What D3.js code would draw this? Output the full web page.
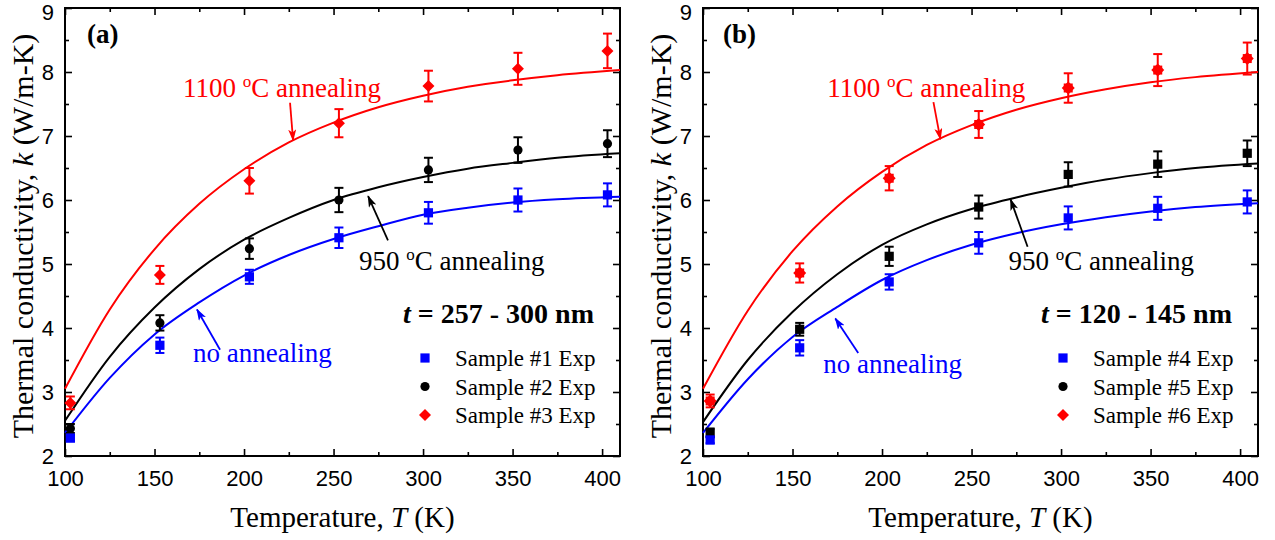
<!DOCTYPE html>
<html>
<head>
<meta charset="utf-8">
<script src="https://cdn.jsdelivr.net/npm/d3@7"></script>
<style>
  body { margin: 0; background: #fff; }
  svg { display: block; }
</style>
</head>
<body>
<div id="chart"></div>
<script>
// measured temperatures (K)
const tempA = [103, 153, 203, 253, 303, 353, 403];
const tempB = [104, 154, 204, 254, 304, 354, 404];

// panel (a) experimental points, W/m-K
const s1 = [2.28, 3.73, 4.80, 5.41, 5.80, 6.00, 6.08];
const s1Err = [0.05, 0.12, 0.11, 0.16, 0.17, 0.18, 0.18];
const s2 = [2.43, 4.08, 5.24, 6.00, 6.47, 6.78, 6.88];
const s2Err = [0.07, 0.12, 0.16, 0.19, 0.19, 0.20, 0.21];
const s3 = [2.83, 4.83, 6.30, 7.20, 7.78, 8.05, 8.33];
const s3Err = [0.10, 0.14, 0.20, 0.22, 0.24, 0.25, 0.27];

// panel (b) experimental points
const s4 = [2.25, 3.69, 4.72, 5.33, 5.72, 5.87, 5.97];
const s4Err = [0.05, 0.12, 0.12, 0.17, 0.18, 0.18, 0.18];
const s5 = [2.36, 3.98, 5.12, 5.89, 6.40, 6.56, 6.73];
const s5Err = [0.07, 0.10, 0.15, 0.18, 0.19, 0.20, 0.20];
const s6 = [2.86, 4.86, 6.34, 7.18, 7.75, 8.03, 8.21];
const s6Err = [0.10, 0.15, 0.19, 0.21, 0.23, 0.25, 0.25];

// model curves
const fitT = [100, 125, 150, 175, 200, 225, 250, 275, 300, 325, 350, 375, 410];
const fitA1 = [2.36, 3.22, 3.90, 4.40, 4.82, 5.14, 5.39, 5.59, 5.77, 5.88, 5.96, 6.01, 6.05];
const fitA2 = [2.55, 3.55, 4.32, 4.92, 5.38, 5.72, 6.00, 6.20, 6.36, 6.49, 6.58, 6.66, 6.73];
const fitA3 = [3.05, 4.29, 5.23, 5.94, 6.48, 6.90, 7.21, 7.45, 7.63, 7.77, 7.87, 7.95, 8.03];
const fitB1 = [2.36, 3.20, 3.86, 4.33, 4.75, 5.06, 5.30, 5.48, 5.62, 5.73, 5.82, 5.89, 5.95];
const fitB2 = [2.53, 3.50, 4.25, 4.84, 5.30, 5.62, 5.86, 6.04, 6.19, 6.32, 6.42, 6.50, 6.57];
const fitB3 = [3.05, 4.27, 5.20, 5.90, 6.44, 6.86, 7.17, 7.41, 7.59, 7.73, 7.84, 7.92, 8.00];

const xTicks = [100, 150, 200, 250, 300, 350, 400];
const xMinor = [125, 175, 225, 275, 325, 375];
const yTicks = [2, 3, 4, 5, 6, 7, 8, 9];
const yMinor = [2.5, 3.5, 4.5, 5.5, 6.5, 7.5, 8.5];

const legendA = ["Sample #1 Exp", "Sample #2 Exp", "Sample #3 Exp"];
const legendB = ["Sample #4 Exp", "Sample #5 Exp", "Sample #6 Exp"];

const BLUE = "#0000ff", RED = "#ff0000", BLACK = "#000000";
const SERIF = "'Liberation Serif', Tinos, 'Times New Roman', Times, 'DejaVu Serif', serif";
const SANS = "'Liberation Sans', Arimo, Arial, sans-serif";

const width = 1275, height = 540;
const plotTop = 8, plotBottom = 456;

const svg = d3.select("#chart").append("svg")
    .attr("width", width)
    .attr("height", height);

const defs = svg.append("defs");
[["arrRed", RED], ["arrBlack", BLACK], ["arrBlue", BLUE]].forEach(([id, c]) => {
    defs.append("marker")
        .attr("id", id)
        .attr("viewBox", "0 0 12 8")
        .attr("refX", 11).attr("refY", 4)
        .attr("markerWidth", 12).attr("markerHeight", 8)
        .attr("markerUnits", "userSpaceOnUse")
        .attr("orient", "auto")
        .append("path")
        .attr("d", "M0,0 L12,4 L0,8 L3,4 Z")
        .attr("fill", c);
});

function drawMarker(g, shape, cx, cy, color) {
    if (shape === "circle") {
        g.append("circle").attr("cx", cx).attr("cy", cy).attr("r", 4.6).attr("fill", color);
    } else if (shape === "square") {
        g.append("rect").attr("x", cx - 4.6).attr("y", cy - 4.6)
            .attr("width", 9.2).attr("height", 9.2).attr("fill", color);
    } else if (shape === "diamond") {
        g.append("path").attr("d", `M${cx},${cy - 6} L${cx + 6},${cy} L${cx},${cy + 6} L${cx - 6},${cy} Z`)
            .attr("fill", color);
    } else if (shape === "star") {
        g.append("rect").attr("x", cx - 4.5).attr("y", cy - 4.5)
            .attr("width", 9).attr("height", 9).attr("fill", color);
        g.append("path").attr("d", `M${cx},${cy - 6.5} L${cx + 6.5},${cy} L${cx},${cy + 6.5} L${cx - 6.5},${cy} Z`)
            .attr("fill", color);
    }
}

function annotText(g, x, y, color, lead, tail) {
    const t = g.append("text")
        .attr("x", x).attr("y", y)
        .attr("fill", color)
        .style("font-family", SERIF)
        .style("font-size", "27px");
    t.append("tspan").text(lead);
    t.append("tspan").attr("dy", -10).style("font-size", "17px").text("o");
    t.append("tspan").attr("dy", 10).text(tail);
}

function drawPanel(cfg) {
    const left = cfg.left, right = cfg.left + 555;

    const x = d3.scaleLinear().domain([100, 410]).range([left, right]);
    const y = d3.scaleLinear().domain([2, 9]).range([plotBottom, plotTop]);

    const g = svg.append("g");

    // axes, ticks pointing inward on every side
    const axisStyle = sel => {
        sel.select(".domain").remove();
        sel.selectAll("line").attr("stroke", "#000").attr("stroke-width", 1.6);
        sel.selectAll("text").style("font-family", SANS).style("font-size", "22px").attr("fill", "#000");
    };
    g.append("g").attr("transform", `translate(0,${plotBottom})`)
        .call(d3.axisBottom(x).tickValues(xTicks).tickSize(-7).tickPadding(14).tickFormat(d3.format("d")))
        .call(axisStyle);
    g.append("g").attr("transform", `translate(0,${plotBottom})`)
        .call(d3.axisBottom(x).tickValues(xMinor).tickSize(-4).tickFormat(""))
        .call(axisStyle);
    g.append("g").attr("transform", `translate(0,${plotTop})`)
        .call(d3.axisTop(x).tickValues(xTicks).tickSize(-7).tickFormat(""))
        .call(axisStyle);
    g.append("g").attr("transform", `translate(0,${plotTop})`)
        .call(d3.axisTop(x).tickValues(xMinor).tickSize(-4).tickFormat(""))
        .call(axisStyle);
    const yAxis = g.append("g").attr("transform", `translate(${left},0)`)
        .call(d3.axisLeft(y).tickValues(yTicks).tickSize(-7).tickPadding(11).tickFormat(d3.format("d")))
        .call(axisStyle);
    // keep the top label inside the page
    yAxis.selectAll(".tick text").filter(d => d === 9).attr("dy", "0.5em");
    g.append("g").attr("transform", `translate(${left},0)`)
        .call(d3.axisLeft(y).tickValues(yMinor).tickSize(-4).tickFormat(""))
        .call(axisStyle);
    g.append("g").attr("transform", `translate(${right},0)`)
        .call(d3.axisRight(y).tickValues(yTicks).tickSize(-7).tickFormat(""))
        .call(axisStyle);
    g.append("g").attr("transform", `translate(${right},0)`)
        .call(d3.axisRight(y).tickValues(yMinor).tickSize(-4).tickFormat(""))
        .call(axisStyle);

    g.append("rect")
        .attr("x", left).attr("y", plotTop)
        .attr("width", right - left).attr("height", plotBottom - plotTop)
        .attr("fill", "none").attr("stroke", "#000").attr("stroke-width", 2);

    // axis titles
    const xt = g.append("text")
        .attr("x", (left + right) / 2).attr("y", 527)
        .attr("text-anchor", "middle")
        .style("font-family", SERIF).style("font-size", "29px");
    xt.append("tspan").text("Temperature, ");
    xt.append("tspan").style("font-style", "italic").text("T");
    xt.append("tspan").text(" (K)");

    const yt = g.append("text")
        .attr("transform", `translate(${left - 32},${(plotTop + plotBottom) / 2 + 4}) rotate(-90)`)
        .attr("text-anchor", "middle")
        .style("font-family", SERIF).style("font-size", "30px");
    yt.append("tspan").text("Thermal conductivity, ");
    yt.append("tspan").style("font-style", "italic").text("k");
    yt.append("tspan").text(" (W/m-K)");

    // model curves
    const line = d3.line().x(d => x(d[0])).y(d => y(d[1])).curve(d3.curveMonotoneX);
    cfg.fits.forEach(f => {
        g.append("path")
            .datum(fitT.map((t, i) => [t, f.vals[i]]))
            .attr("d", line)
            .attr("fill", "none")
            .attr("stroke", f.color)
            .attr("stroke-width", 2);
    });

    // experimental points with error bars
    cfg.series.forEach(s => {
        const sg = g.append("g");
        cfg.temps.forEach((t, i) => {
            const cx = x(t), v = s.vals[i], e = s.err[i];
            const y0 = y(v - e), y1 = y(v + e);
            sg.append("line").attr("x1", cx).attr("x2", cx).attr("y1", y0).attr("y2", y1)
                .attr("stroke", s.color).attr("stroke-width", 2);
            [y0, y1].forEach(yy => sg.append("line")
                .attr("x1", cx - 4.5).attr("x2", cx + 4.5).attr("y1", yy).attr("y2", yy)
                .attr("stroke", s.color).attr("stroke-width", 2));
            drawMarker(sg, s.shape, cx, y(v), s.color);
        });
    });

    // annotations
    cfg.notes.forEach(n => {
        annotText(g, x(n.text[0]), y(n.text[1]), n.color, n.lead, "C annealing");
        g.append("line")
            .attr("x1", x(n.from[0])).attr("y1", y(n.from[1]))
            .attr("x2", x(n.to[0])).attr("y2", y(n.to[1]))
            .attr("stroke", n.color).attr("stroke-width", 1.8)
            .attr("marker-end", `url(#${n.marker})`);
    });
    const na = cfg.noAnneal;
    g.append("text")
        .attr("x", x(na.text[0])).attr("y", y(na.text[1]))
        .attr("fill", BLUE)
        .style("font-family", SERIF).style("font-size", "27px")
        .text("no annealing");
    g.append("line")
        .attr("x1", x(na.from[0])).attr("y1", y(na.from[1]))
        .attr("x2", x(na.to[0])).attr("y2", y(na.to[1]))
        .attr("stroke", BLUE).attr("stroke-width", 1.8)
        .attr("marker-end", "url(#arrBlue)");

    // panel label
    g.append("text")
        .attr("x", left + cfg.labelDx).attr("y", 43)
        .style("font-family", SERIF).style("font-size", "27px").style("font-weight", "bold")
        .text(cfg.label);

    // thickness
    const th = g.append("text")
        .attr("x", left + 529).attr("y", 323)
        .attr("text-anchor", "end")
        .style("font-family", SERIF).style("font-size", "28px").style("font-weight", "bold");
    th.append("tspan").style("font-style", "italic").text("t");
    th.append("tspan").text(cfg.thickness);

    // legend
    const shapes = ["square", "circle", "diamond"];
    const colors = [BLUE, BLACK, RED];
    cfg.legend.forEach((name, i) => {
        const ly = 358 + i * 28.5;
        drawMarker(g, shapes[i], left + 360, ly, colors[i]);
        g.append("text")
            .attr("x", left + 390).attr("y", ly + 8)
            .style("font-family", SERIF).style("font-size", "23px")
            .text(name);
    });
}

drawPanel({
    left: 65,
    label: "(a)", labelDx: 22,
    thickness: " = 257 - 300 nm",
    temps: tempA,
    legend: legendA,
    fits: [
        { vals: fitA3, color: RED },
        { vals: fitA2, color: BLACK },
        { vals: fitA1, color: BLUE }
    ],
    series: [
        { vals: s3, err: s3Err, color: RED, shape: "diamond" },
        { vals: s2, err: s2Err, color: BLACK, shape: "circle" },
        { vals: s1, err: s1Err, color: BLUE, shape: "square" }
    ],
    notes: [
        { lead: "1100 ", color: RED, marker: "arrRed", text: [165.9, 7.61], from: [225.7, 7.52], to: [227.4, 6.93] },
        { lead: "950 ", color: BLACK, marker: "arrBlack", text: [264.2, 4.91], from: [280.4, 5.37], to: [269.3, 6.06] }
    ],
    noAnneal: { text: [171.5, 3.47], from: [186.6, 3.66], to: [173.7, 4.29] }
});

drawPanel({
    left: 703,
    label: "(b)", labelDx: 20,
    thickness: " = 120 - 145 nm",
    temps: tempB,
    legend: legendB,
    fits: [
        { vals: fitB3, color: RED },
        { vals: fitB2, color: BLACK },
        { vals: fitB1, color: BLUE }
    ],
    series: [
        { vals: s6, err: s6Err, color: RED, shape: "star" },
        { vals: s5, err: s5Err, color: BLACK, shape: "square" },
        { vals: s4, err: s4Err, color: BLUE, shape: "square" }
    ],
    notes: [
        { lead: "1100 ", color: RED, marker: "arrRed", text: [169.4, 7.61], from: [228.7, 7.53], to: [232.6, 6.95] },
        { lead: "950 ", color: BLACK, marker: "arrBlack", text: [270.7, 4.91], from: [281.3, 5.27], to: [271.8, 6.01] }
    ],
    noAnneal: { text: [167.2, 3.30], from: [186.7, 3.61], to: [173.9, 4.15] }
});
</script>
</body>
</html>
